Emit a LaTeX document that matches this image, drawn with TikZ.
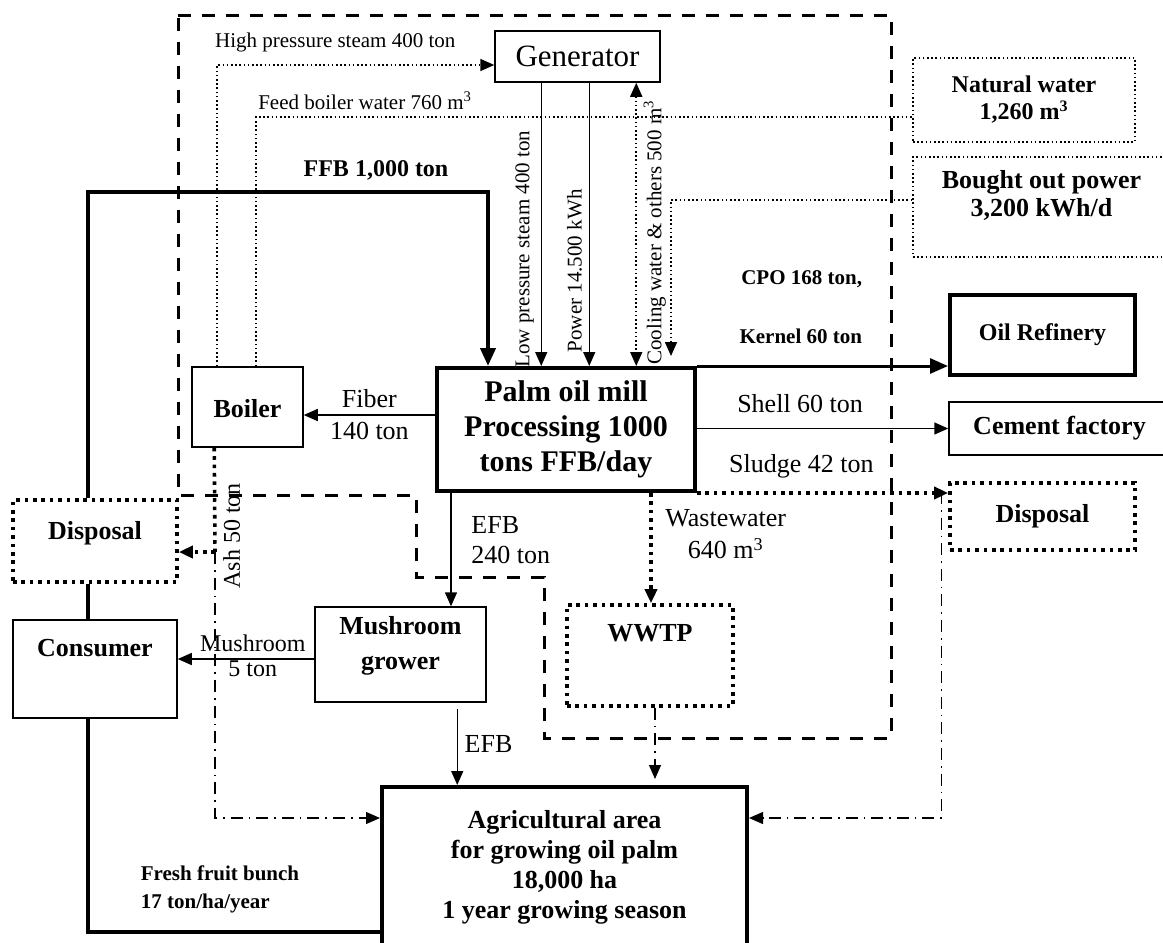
\documentclass[tikz,border=0pt]{standalone}
\usepackage{fontspec}
\setmainfont{Liberation Serif}
\usetikzlibrary{arrows.meta,positioning,calc}

\begin{document}
\begin{tikzpicture}[x=0.5pt, y=-0.5pt,
    box/.style={draw, line width=0.75pt, inner sep=1pt, align=center, font=\fontsize{13}{15}\selectfont\bfseries},
    heavybox/.style={box, line width=2pt},
    dotbox/.style={box, line width=1.8pt, dash pattern=on 1.8pt off 2.4pt},
    finebox/.style={box, line width=0.8pt, dash pattern=on 0.8pt off 1.3pt},
    arr/.style={-{Triangle[length=7pt,width=6pt]}},
    bigarr/.style={-{Triangle[length=9pt,width=7.5pt]}},
    flow/.style={line width=0.75pt},
    heavy/.style={line width=2pt},
    dotflow/.style={line width=1.8pt, dash pattern=on 1.8pt off 2.4pt},
    fineflow/.style={line width=0.8pt, dash pattern=on 0.8pt off 1.3pt},
    dashdotline/.style={line width=0.6pt, dash pattern=on 6pt off 3pt on 0.8pt off 3pt},
    boundary/.style={line width=1.5pt, dash pattern=on 6.5pt off 5.5pt},
    lbl/.style={font=\fontsize{13}{15}\selectfont, align=center},
    lblsmall/.style={font=\fontsize{10.5}{12.5}\selectfont},
    lblbold/.style={font=\fontsize{10.5}{12.5}\selectfont\bfseries}
  ]
  \useasboundingbox (0,0) rectangle (1163,943);

  % system boundary of the mill
  \draw[boundary] (178,15) -- (891,15) -- (891,738) -- (544,738) -- (544,577)
    -- (416,577) -- (416,495) -- (178,495) -- cycle;

  % boxes
  \node[box, font=\fontsize{15.5}{18}\selectfont, minimum width=82.5pt, minimum height=25.5pt] (gen) at (577.5,56.5) {Generator};
  \node[heavybox, font=\fontsize{15}{17.5}\selectfont\bfseries, minimum width=129pt, minimum height=61.5pt] (mill) at (566,429.5) {Palm oil mill\\Processing 1000\\tons FFB/day};
  \node[box, minimum width=55.5pt, minimum height=40pt] (boiler) at (247.5,407) {\mbox{}\\[-4pt]Boiler};
  \node[finebox, font=\fontsize{12}{13.5}\selectfont\bfseries, minimum width=111pt, minimum height=42pt] (water) at (1024,100) {Natural water\\1,260 m\textsuperscript{3}};
  \node[finebox, font=\fontsize{13}{14}\selectfont\bfseries, minimum width=128.5pt, minimum height=50pt] (power) at (1041.5,207) {Bought out power\\3,200 kWh/d\\\mbox{}};
  \node[heavybox, font=\fontsize{12}{14}\selectfont\bfseries, minimum width=92.5pt, minimum height=40pt] (refinery) at (1042.5,335) {Oil Refinery};
  \node[box, minimum width=110.5pt, minimum height=26.5pt] (cement) at (1059.5,428.5) {Cement factory};
  \node[dotbox, minimum width=92.5pt, minimum height=33.5pt] (dispR) at (1042.5,516.5) {Disposal};
  \node[dotbox, minimum width=82pt, minimum height=41pt] (dispL) at (95,541) {Disposal\\[-4pt]\mbox{}};
  \node[box, minimum width=82pt, minimum height=49pt] (consumer) at (95,669) {Consumer\\[6pt]\mbox{}};
  \node[box, minimum width=85.5pt, minimum height=47.5pt] (mush) at (400.5,654.5) {Mushroom\\[2.5pt]grower\\[-3pt]\mbox{}};
  \node[dotbox, minimum width=83pt, minimum height=50.5pt] (wwtp) at (650,655.5) {WWTP\\[7.5pt]\mbox{}};
  \node[heavybox, minimum width=182.5pt, minimum height=80.5pt] (agri) at (564.5,867.5) {Agricultural area\\for growing oil palm\\18,000 ha\\1 year growing season};

  % steam and water from the boiler
  \draw[fineflow, arr] ([xshift=13pt]boiler.north west) |- node[pos=0.713, above=3pt, lblsmall] {High pressure steam 400 ton} ([yshift=-4.25pt]gen.west);
  \draw[fineflow] ([xshift=32.5pt]boiler.north west) |- node[pos=0.583, above, lblsmall] {Feed boiler water 760 m\textsuperscript{3}} ([yshift=-8.5pt]water.west);

  % generator to mill
  \draw[flow, arr] ([xshift=23.5pt]gen.south west) -- node[pos=0.573, rotate=90, above=-2pt, lblsmall] {Low pressure steam 400 ton} ([xshift=23.5pt]gen.south west |- mill.north);
  \draw[flow, arr] ([xshift=47.5pt]gen.south west) -- node[pos=0.664, rotate=90, above, lblsmall] {Power 14.500 kWh} ([xshift=47.5pt]gen.south west |- mill.north);
  \draw[fineflow, {Triangle[length=7pt,width=6pt]}-{Triangle[length=7pt,width=6pt]}] ([xshift=71pt]gen.south west) -- node[pos=0.528, rotate=90, below, lblsmall] {Cooling water \& others 500 m\textsuperscript{3}} ([xshift=71pt]gen.south west |- mill.north);
  \draw[fineflow, arr, shorten >=5pt] ([yshift=3.5pt]power.west) -| ([xshift=118pt]mill.north west);

  % fresh fruit bunches
  \coordinate (ffb) at (88,192);
  \draw[heavy, bigarr] ([xshift=-3.5pt]dispL.north) -- (ffb) -| node[pos=0.36, above=1.5pt, font=\fontsize{12}{14}\selectfont\bfseries] {FFB 1,000 ton} ([xshift=26.5pt]mill.north west);
  \draw[heavy] ([xshift=-3.5pt]dispL.south) -- ([xshift=-3.5pt]consumer.north);
  \draw[heavy] ([xshift=-3.5pt]consumer.south) |- node[pos=0.726, above=5pt, align=left, font=\fontsize{10.5}{14}\selectfont\bfseries] {Fresh fruit bunch\\17 ton/ha/year} ([yshift=-32.25pt]agri.west);

  % mill outputs
  \draw[flow, arr] ([yshift=7.25pt]mill.west) -- node[above, lbl] {Fiber} node[below, lbl] {140 ton} ([yshift=7.25pt]mill.west -| boiler.east);
  \draw[line width=1.5pt, bigarr] (mill.north east) -- node[pos=0.69, anchor=south east, yshift=7pt, lblbold, align=right] {CPO 168 ton,\\[17pt]Kernel 60 ton} (mill.north east -| refinery.west);
  \draw[flow, arr] (mill.east |- cement.west) -- node[pos=0.69, anchor=south east, yshift=4pt, lbl] {Shell 60 ton} (cement.west);
  \draw[dotflow, arr] (mill.south east) -- node[pos=0.737, anchor=south east, yshift=3pt, lbl] {Sludge 42 ton} (mill.south east -| dispR.west);
  \draw[dotflow, arr] ([xshift=108pt]mill.south west) -- node[pos=0.377, right=3pt, lbl] {Wastewater\\[1pt]640 m\textsuperscript{3}} ([xshift=108pt]mill.south west |- wwtp.north);
  \draw[flow, arr] ([xshift=8pt]mill.south west) -- node[pos=0.42, right=6.5pt, lbl, align=left] {EFB\\240 ton} ([xshift=8pt]mill.south west |- mush.north);

  % mushroom grower
  \draw[flow, arr] ([yshift=-2.25pt]mush.west) -- node[pos=0.45, above, font=\fontsize{12}{14}\selectfont] {Mushroom} node[pos=0.45, below=-3pt, font=\fontsize{12}{14}\selectfont] {5 ton} ([yshift=-2.25pt]mush.west -| consumer.east);
  \draw[flow, arr, shorten <=3pt] ([xshift=71.5pt]mush.south west) -- node[right, lbl] {EFB} ([xshift=71.5pt]mush.south west |- agri.north);

  % returns to the plantation
  \draw[dashdotline, arr, shorten >=3pt] ([xshift=2.5pt]wwtp.south) -- ([xshift=2.5pt]wwtp.south |- agri.north);
  \coordinate (ash) at (215,552);
  \draw[dotflow] ([xshift=11.5pt]boiler.south west) -- node[pos=0.74, rotate=90, below=5.5pt, font=\fontsize{12}{14}\selectfont] {Ash 50 ton} (ash);
  \draw[dotflow, arr] (ash) -- (ash -| dispL.east);
  \draw[dashdotline, arr] (ash) |- ([yshift=24.75pt]agri.west);
  \draw[dashdotline, arr] ([xshift=-3.5pt, yshift=12.25pt]dispR.west) |- ([yshift=24.75pt]agri.east);
\end{tikzpicture}
\end{document}
